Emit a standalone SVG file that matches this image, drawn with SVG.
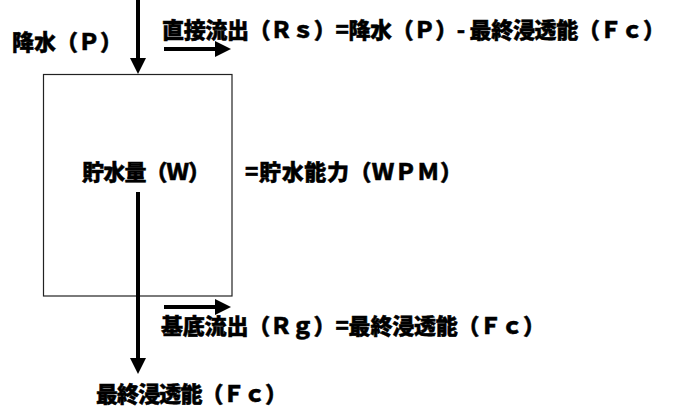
<svg xmlns="http://www.w3.org/2000/svg" width="674" height="409" viewBox="0 0 674 409">
<style>
.t{font-family:"Noto Sans CJK JP","Noto Sans CJK SC",sans-serif;font-size:22px;font-weight:900;fill:#000;stroke:#000;stroke-width:0.5}
.a{stroke:#000;stroke-width:4;fill:none;marker-end:url(#ah)}
</style>
<defs>
<marker id="ah" markerUnits="userSpaceOnUse" viewBox="0 0 16 16" refX="1" refY="8" markerWidth="16" markerHeight="16" orient="auto">
<path d="M0,0 L16,8 L0,16 Z" fill="#000"/>
</marker>
</defs>
<rect width="674" height="409" fill="#fff"/>
<g id="store">
<rect x="43.5" y="74.5" width="188.5" height="221.5" fill="#fff" stroke="#222" stroke-width="1.2"/>
<text class="t" x="82" y="180" textLength="128">貯水量（Ｗ）</text>
</g>
<g id="wpm">
<text class="t" x="245" y="180" textLength="217">=貯水能力（ＷＰＭ）</text>
</g>
<g id="precip">
<text class="t" x="12" y="50" textLength="110">降水（Ｐ）</text>
</g>
<g id="direct-runoff">
<text class="t" x="162" y="38" textLength="503">直接流出（Ｒｓ）=降水（Ｐ）- 最終浸透能（Ｆｃ）</text>
</g>
<g id="base-runoff">
<text class="t" x="161" y="334" textLength="384">基底流出（Ｒｇ）=最終浸透能（Ｆｃ）</text>
</g>
<g id="infiltration">
<text class="t" x="96" y="402" textLength="191">最終浸透能（Ｆｃ）</text>
</g>
<g id="connectors">
<line class="a" x1="138" y1="0" x2="138" y2="59"/>
<line class="a" x1="164" y1="49" x2="216" y2="49"/>
<line class="a" x1="138" y1="192" x2="138" y2="359"/>
<line class="a" x1="164" y1="307" x2="216" y2="307"/>
</g>
</svg>
